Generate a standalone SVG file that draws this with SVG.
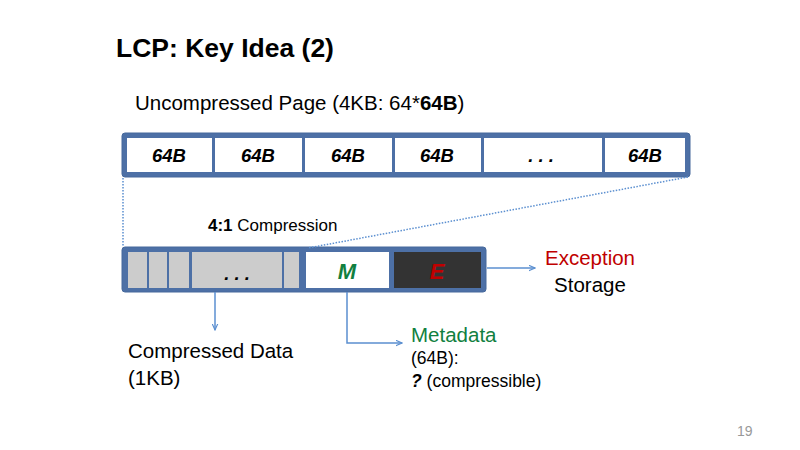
<svg xmlns="http://www.w3.org/2000/svg" width="800" height="450" viewBox="0 0 800 450">
<defs>
<style>
text{font-family:"Liberation Sans","Noto Sans",sans-serif;}
.frame{fill:#4d70a6;stroke:#46699c;stroke-width:1;}
.cell{fill:#ffffff;}
.gcell{fill:#cccccc;}
.lbl{font-size:18.5px;font-weight:bold;font-style:italic;fill:#000;text-anchor:middle;}
.big{font-size:22px;}
.conn{fill:none;stroke:#5b8fd0;stroke-width:1.5;}
.dot{fill:none;stroke:#5b8fd0;stroke-width:1.5;stroke-dasharray:1.5 1.5;}
.t{font-size:20.5px;fill:#000;}
.s{font-size:17.5px;fill:#000;}
</style>
<marker id="ah" viewBox="0 0 10 10" refX="9" refY="5" markerWidth="7" markerHeight="7" orient="auto" markerUnits="userSpaceOnUse">
<path d="M0,1 L9,5 L0,9" fill="none" stroke="#5b8fd0" stroke-width="1.6"/>
</marker>
</defs>
<rect width="800" height="450" fill="#ffffff"/>
<text x="116" y="57" font-size="26.5" font-weight="bold">LCP: Key Idea (2)</text>
<text x="135" y="110" class="t">Uncompressed Page (4KB: 64*<tspan font-weight="bold">64B</tspan>)</text>

<g id="uncompressed-page">
<rect class="frame" x="122" y="133" width="568" height="44" rx="3"/>
<rect class="cell" x="127" y="138" width="85" height="34"/>
<rect class="cell" x="215" y="138" width="87" height="34"/>
<rect class="cell" x="305" y="138" width="87" height="34"/>
<rect class="cell" x="395" y="138" width="86" height="34"/>
<rect class="cell" x="484" y="138" width="118" height="34"/>
<rect class="cell" x="605" y="138" width="80" height="34"/>
<text class="lbl" x="169" y="162">64B</text>
<text class="lbl" x="258" y="162">64B</text>
<text class="lbl" x="348" y="162">64B</text>
<text class="lbl" x="437" y="162">64B</text>
<text class="lbl" x="541" y="162">. . .</text>
<text class="lbl" x="645" y="162">64B</text>
</g>

<text x="208" y="231" font-size="17"><tspan font-weight="bold">4:1</tspan> Compression</text>

<g id="compressed-page">
<rect class="frame" x="122" y="247" width="364" height="45" rx="3"/>
<rect class="gcell" x="128" y="252" width="19" height="36"/>
<rect class="gcell" x="149" y="252" width="18" height="36"/>
<rect class="gcell" x="169" y="252" width="20" height="36"/>
<rect class="gcell" x="192" y="252" width="90" height="36"/>
<rect class="gcell" x="284" y="252" width="15" height="36"/>
<text class="lbl" x="237" y="280">. . .</text>
</g>
<g id="metadata-cell">
<rect class="cell" x="306" y="252" width="83" height="36"/>
<text class="lbl big" x="347" y="279" style="fill:#118040">M</text>
</g>
<g id="exception-cell">
<rect x="394" y="252" width="87" height="36" fill="#333333"/>
<text class="lbl big" x="437" y="279" style="fill:#c00000">E</text>
</g>

<g id="connectors">
<line class="dot" x1="123" y1="178" x2="123" y2="247"/>
<line class="dot" x1="688" y1="177" x2="308" y2="248"/>
<path class="conn" d="M215,292 V330" marker-end="url(#ah)"/>
<path class="conn" d="M347,292 V343 H402" marker-end="url(#ah)"/>
<path class="conn" d="M487,268 H535" marker-end="url(#ah)"/>
</g>

<g id="exception-storage">
<text x="590" y="265" class="t" text-anchor="middle" style="fill:#c00000">Exception</text>
<text x="590" y="292" class="t" text-anchor="middle">Storage</text>
</g>
<g id="compressed-data">
<text x="128" y="358" class="t">Compressed Data</text>
<text x="128" y="385" class="t">(1KB)</text>
</g>
<g id="metadata">
<text x="411" y="342" class="t" style="fill:#118040">Metadata</text>
<text x="411" y="364" class="s">(64B):</text>
<text x="411" y="387" class="s"><tspan font-weight="bold" font-style="italic">?</tspan> (compressible)</text>
</g>
<text x="737" y="436" font-size="14" fill="#999999">19</text>
</svg>
